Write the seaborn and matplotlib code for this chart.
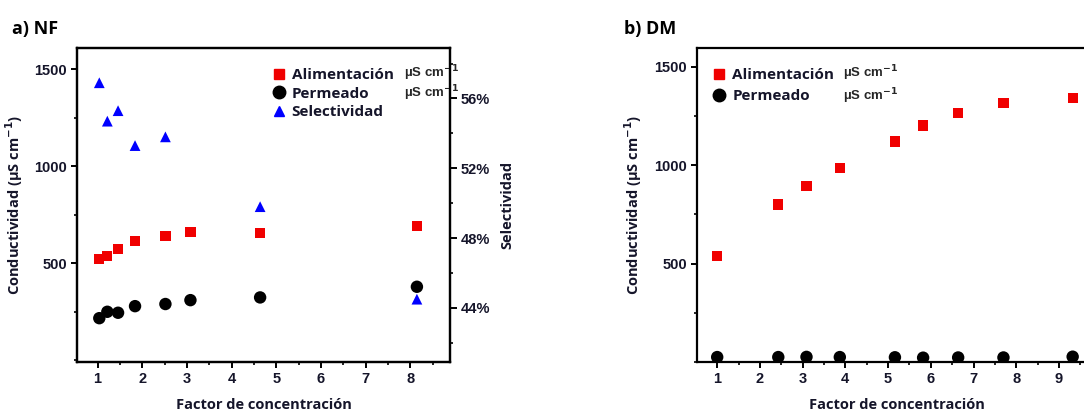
import numpy as np
import pandas as pd
import seaborn as sns
import matplotlib.pyplot as plt
from matplotlib.ticker import MultipleLocator, FuncFormatter

# panel a) NF
nf_factor = [1.04, 1.22, 1.46, 1.84, 2.52, 3.08, 4.64, 8.15]
nf_alim = [520, 536, 572, 615, 640, 660, 655, 690]
nf_perm = [216, 249, 244, 278, 289, 309, 323, 378]
nf_sel_factor = [1.04, 1.22, 1.46, 1.84, 2.52, 4.64, 8.15]
nf_sel = [56.9, 54.7, 55.3, 53.3, 53.8, 49.8, 44.5]

# panel b) DM
dm_factor = [1.0, 2.43, 3.09, 3.87, 5.16, 5.82, 6.64, 7.70, 9.32]
dm_alim = [539, 800, 895, 986, 1119, 1200, 1263, 1314, 1342]
dm_perm = [25, 25, 26, 25, 24, 22, 23, 23, 27]

sns.set_style("ticks")
plt.rcParams["font.family"] = ["Open Sans", "DejaVu Sans"]
plt.rcParams["font.weight"] = "bold"
plt.rcParams["axes.labelweight"] = "bold"
plt.rcParams["mathtext.default"] = "bf"

txt = "#15152a"
tickfont = {"family": ["Liberation Sans", "DejaVu Sans"], "weight": "bold", "size": 10.5}
unitfont = {"family": ["Liberation Sans", "DejaVu Sans"], "weight": "bold", "size": 9.5}


def style_axis(ax):
    for s in ax.spines.values():
        s.set_linewidth(1.6)
        s.set_color("black")
    ax.tick_params(which="major", direction="out", length=4, width=1.4, colors="black", labelcolor=txt, pad=3)
    ax.tick_params(which="minor", direction="out", length=2.5, width=1.2, colors="black")
    for lab in ax.get_xticklabels() + ax.get_yticklabels():
        lab.set_fontproperties(tickfont)


fig = plt.figure(figsize=(10.84, 4.15), dpi=100)

# ---------- a) NF ----------
ax1 = fig.add_axes([0.0710, 0.1277, 0.3441, 0.757])
df_nf = pd.DataFrame({"factor": nf_factor, "alim": nf_alim, "perm": nf_perm})
df_sel = pd.DataFrame({"factor": nf_sel_factor, "sel": nf_sel})

sns.scatterplot(data=df_nf, x="factor", y="alim", marker="s", color="#f00000", s=55,
                edgecolor="none", ax=ax1, zorder=3)
sns.scatterplot(data=df_nf, x="factor", y="perm", marker="o", color="black", s=80,
                edgecolor="none", ax=ax1, zorder=3)
ax1.set_xlim(0.54, 8.89)
ax1.set_ylim(-10, 1610)
ax1.xaxis.set_major_locator(MultipleLocator(1))
ax1.xaxis.set_minor_locator(MultipleLocator(0.5))
ax1.yaxis.set_minor_locator(MultipleLocator(250))
ax1.set_yticks([500, 1000, 1500])
ax1.set_xlabel("Factor de concentración", fontsize=10.5, color=txt, labelpad=9)
ax1.set_ylabel("Conductividad (µS cm$^{-1}$)", fontsize=10.5, color=txt, labelpad=7)

ax2 = ax1.twinx()
sns.scatterplot(data=df_sel, x="factor", y="sel", marker="^", color="#0000ff", s=60,
                edgecolor="none", ax=ax2, zorder=3)
ax2.set_ylim(40.9, 58.9)
ax2.yaxis.set_minor_locator(MultipleLocator(2))
ax2.set_yticks([44, 48, 52, 56])
ax2.yaxis.set_major_formatter(FuncFormatter(lambda v, p: f"{v:.0f}%"))
ax2.set_ylabel("Selectividad", fontsize=10.5, color=txt, labelpad=7)
ax1.tick_params(top=False)
style_axis(ax1)
style_axis(ax2)
ax2.tick_params(axis="y", which="major", length=5)

handles = [
    plt.Line2D([], [], ls="none", marker="s", color="#f00000", ms=7),
    plt.Line2D([], [], ls="none", marker="o", color="black", ms=9),
    plt.Line2D([], [], ls="none", marker="^", color="#0000ff", ms=7.5),
]
leg = ax1.legend(handles, ["Alimentación", "Permeado", "Selectividad"], loc="upper left",
                 bbox_to_anchor=(0.50, 0.96), frameon=False, fontsize=11,
                 handlelength=1.0, handletextpad=0.35, labelspacing=0.3, borderpad=0)
for t in leg.get_texts():
    t.set_color(txt)
ax1.text(0.877, 0.918, "µS cm$^{-1}$", transform=ax1.transAxes, fontdict=unitfont, va="center")
ax1.text(0.877, 0.856, "µS cm$^{-1}$", transform=ax1.transAxes, fontdict=unitfont, va="center")
fig.text(0.011, 0.93, "a) NF", fontsize=13, weight="bold", color="black", va="center")

# ---------- b) DM ----------
ax3 = fig.add_axes([0.6427, 0.1277, 0.3697, 0.757])
df_dm = pd.DataFrame({"factor": dm_factor, "alim": dm_alim, "perm": dm_perm})
sns.scatterplot(data=df_dm, x="factor", y="alim", marker="s", color="#f00000", s=55,
                edgecolor="none", ax=ax3, zorder=3)
sns.scatterplot(data=df_dm, x="factor", y="perm", marker="o", color="black", s=80,
                edgecolor="none", ax=ax3, zorder=1)
ax3.set_xlim(0.52, 9.9)
ax3.set_ylim(0, 1595)
ax3.xaxis.set_major_locator(MultipleLocator(1))
ax3.xaxis.set_minor_locator(MultipleLocator(0.5))
ax3.yaxis.set_minor_locator(MultipleLocator(250))
ax3.set_yticks([500, 1000, 1500])
ax3.set_xlabel("Factor de concentración", fontsize=10.5, color=txt, labelpad=9)
ax3.set_ylabel("Conductividad (µS cm$^{-1}$)", fontsize=10.5, color=txt, labelpad=7)
style_axis(ax3)
ax3.tick_params(top=False, right=False)

leg_b = ax3.legend(handles[:2], ["Alimentación", "Permeado"], loc="upper left",
                   bbox_to_anchor=(0.018, 0.96), frameon=False, fontsize=11,
                   handlelength=1.0, handletextpad=0.35, labelspacing=0.45, borderpad=0)
for t in leg_b.get_texts():
    t.set_color(txt)
ax3.text(0.364, 0.918, "µS cm$^{-1}$", transform=ax3.transAxes, fontdict=unitfont, va="center")
ax3.text(0.364, 0.846, "µS cm$^{-1}$", transform=ax3.transAxes, fontdict=unitfont, va="center")
fig.text(0.576, 0.93, "b) DM", fontsize=13, weight="bold", color="black", va="center")

fig.savefig("out.png", dpi=100)
